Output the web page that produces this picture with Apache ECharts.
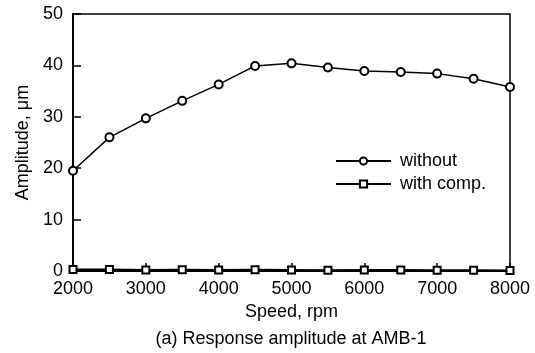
<!DOCTYPE html>
<html><head><meta charset="utf-8">
<script src="https://cdn.jsdelivr.net/npm/echarts@6/dist/echarts.min.js"></script>
<style>html,body{margin:0;padding:0;background:#fff}#c{width:535px;height:353px}</style>
</head><body><div id="c"></div>
<script>
var speeds = [2000,2500,3000,3500,4000,4500,5000,5500,6000,6500,7000,7500,8000];
var withoutVals = [19.5,26.0,29.7,33.1,36.3,39.9,40.4,39.6,38.9,38.7,38.4,37.4,35.8];
var withCompVals = [0.3,0.3,0.2,0.25,0.2,0.25,0.2,0.15,0.2,0.2,0.15,0.15,0.1];
var xTicks = [2000,3000,4000,5000,6000,7000,8000];
var yTicks = [0,10,20,30,40,50];

function pairs(xs, ys){ return xs.map(function(x,i){ return [x, ys[i]]; }); }
var F = 'Liberation Sans, Arial, sans-serif';
var chart = echarts.init(document.getElementById('c'), null, {renderer:'canvas'});
chart.setOption({
  animation: false,
  backgroundColor: '#fff',
  title: {
    text: '(a) Response amplitude at AMB-1',
    left: 291, top: 330, textAlign: 'center', padding: 0,
    textStyle: {fontFamily: F, fontSize: 18, fontWeight: 'normal', color: '#000'}
  },
  grid: {left: 73, right: 25, top: 14, bottom: 82, show: true, borderColor: '#000', borderWidth: 1.5, backgroundColor: 'transparent'},
  legend: {
    orient: 'vertical', left: 335, top: 152, padding: 0, itemWidth: 55, itemHeight: 9, itemGap: 5,
    textStyle: {fontFamily: F, fontSize: 18, color: '#000', padding: [0,0,0,4]},
    data: ['without', 'with comp.']
  },
  xAxis: {
    type: 'value', min: xTicks[0], max: xTicks[xTicks.length-1], interval: 1000,
    name: 'Speed, rpm', nameLocation: 'middle', nameGap: 31,
    nameTextStyle: {fontFamily: F, fontSize: 18, color: '#000'},
    axisLine: {lineStyle: {color: '#000', width: 2}},
    axisTick: {inside: true, length: 8, lineStyle: {color: '#000', width: 1.5}},
    axisLabel: {fontFamily: F, fontSize: 18, color: '#000', margin: 9, formatter: function(v){ return String(v); }},
    splitLine: {show: false}
  },
  yAxis: {
    type: 'value', min: yTicks[0], max: yTicks[yTicks.length-1], interval: 10,
    name: 'Amplitude, \u03bcm', nameLocation: 'middle', nameGap: 41, nameRotate: 90,
    nameTextStyle: {fontFamily: F, fontSize: 18, color: '#000'},
    axisLine: {lineStyle: {color: '#000', width: 2}},
    axisTick: {inside: true, length: 8, lineStyle: {color: '#000', width: 1.5}},
    axisLabel: {fontFamily: F, fontSize: 18, color: '#000', margin: 10},
    splitLine: {show: false}
  },
  series: [
    {name: 'without', type: 'line', data: pairs(speeds, withoutVals), symbol: 'emptyCircle', symbolSize: 8,
     color: '#000', lineStyle: {color: '#000', width: 1.5}, itemStyle: {color: '#000', borderWidth: 1.5}, clip: false},
    {name: 'with comp.', type: 'line', data: pairs(speeds, withCompVals), symbol: 'emptyRect', symbolSize: 7,
     color: '#000', lineStyle: {color: '#000', width: 2}, itemStyle: {color: '#000', borderWidth: 1.5}, clip: false}
  ]
});
</script></body></html>
